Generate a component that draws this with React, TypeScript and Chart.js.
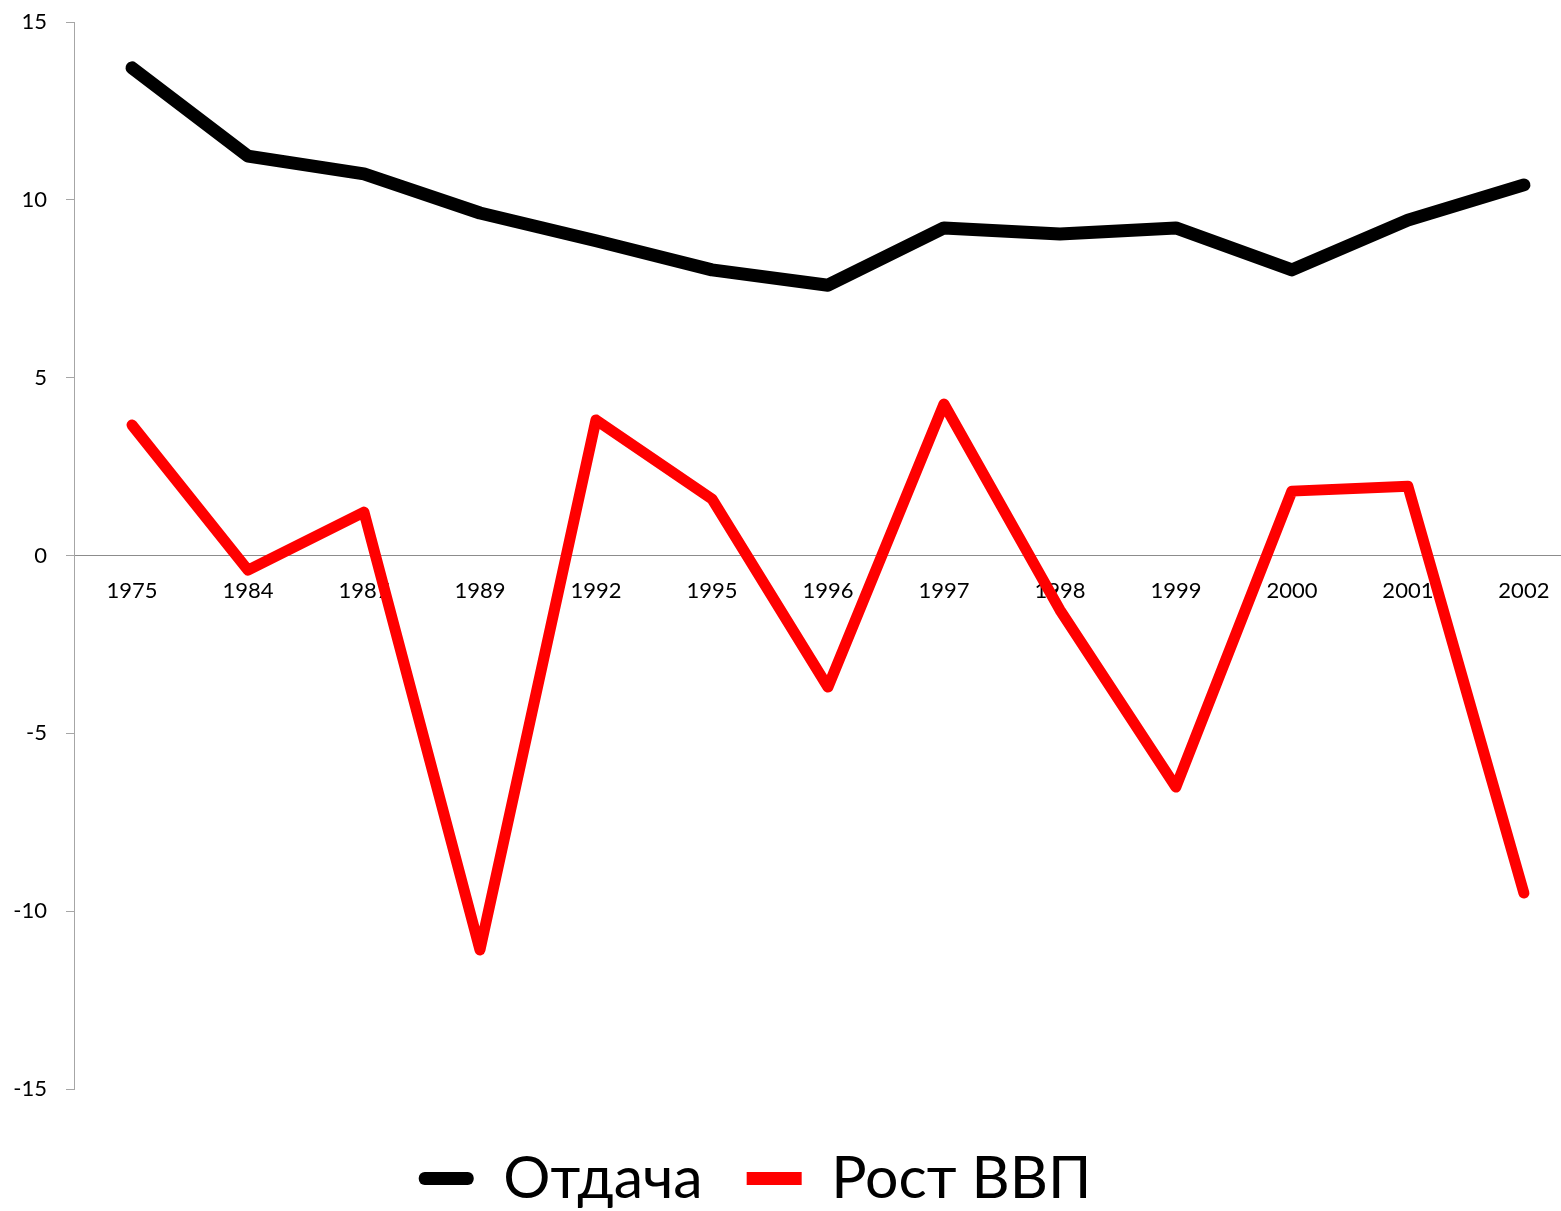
import React, { useEffect, useRef } from "react";
import { Chart, registerables } from "chart.js";

Chart.register(...registerables);

const years = ["1975", "1984", "1987", "1989", "1992", "1995", "1996", "1997", "1998", "1999", "2000", "2001", "2002"];
const otdacha = [13.71, 11.23, 10.73, 9.63, 8.85, 8.03, 7.6, 9.21, 9.04, 9.21, 8.03, 9.43, 10.42];
const rostVVP = [3.67, -0.41, 1.22, -11.09, 3.81, 1.59, -3.7, 4.26, -1.53, -6.51, 1.81, 1.95, -9.49];
const seriesNames = ["Отдача", "Рост ВВП"];
const yTicks = [-15, -10, -5, 0, 5, 10, 15];

const FONT = "Lato, 'Open Sans', sans-serif";

const legendShift = {
  id: "legendShift",
  afterLayout(chart: any) {
    const lg = chart.legend;
    if (!lg) return;
    lg.right -= 51;
    lg.width -= 51;
    lg.top += 16;
    lg.bottom += 16;
  },
};

export default function App() {
  const ref = useRef<HTMLCanvasElement | null>(null);

  useEffect(() => {
    if (!ref.current) return;
    const chart = new Chart(ref.current, {
      type: "line",
      data: {
        datasets: [
          {
            label: seriesNames[0],
            data: otdacha.map((v, i) => ({ x: i, y: v })),
            borderColor: "#000000",
            backgroundColor: "#000000",
            borderWidth: 13,
            borderCapStyle: "round",
            borderJoinStyle: "round",
            pointRadius: 0,
            tension: 0,
          },
          {
            label: seriesNames[1],
            data: rostVVP.map((v, i) => ({ x: i, y: v })),
            borderColor: "#ff0000",
            backgroundColor: "#ff0000",
            borderWidth: 11,
            borderCapStyle: "round",
            borderJoinStyle: "round",
            pointRadius: 0,
            tension: 0,
          },
        ],
      },
      options: {
        responsive: false,
        animation: false,
        layout: { padding: { top: 22, left: 0, right: 0, bottom: 9 } },
        scales: {
          x: {
            type: "linear",
            position: { y: 0 } as any,
            min: -0.5,
            max: 12.32,
            afterBuildTicks: (scale: any) => {
              scale.ticks = years.map((_, i) => ({ value: i }));
            },
            afterFit: (scale: any) => {
              scale.paddingLeft = 0;
              scale.paddingRight = 0;
            },
            ticks: {
              autoSkip: false,
              maxRotation: 0,
              padding: 14,
              color: "#000000",
              font: { family: FONT, size: 22 },
              callback: (v: any) => years[v as number] ?? "",
            },
            grid: { display: false },
            border: { display: true, color: "#8c8c8c", width: 1 },
          },
          y: {
            type: "linear",
            min: -15,
            max: 15,
            afterBuildTicks: (scale: any) => {
              scale.ticks = yTicks.map((v) => ({ value: v }));
            },
            afterFit: (scale: any) => {
              scale.width = 74;
              scale.paddingTop = 10;
              scale.paddingBottom = 10;
            },
            ticks: {
              padding: 19,
              color: "#000000",
              font: { family: FONT, size: 22 },
            },
            grid: {
              drawOnChartArea: false,
              drawTicks: true,
              tickLength: 8,
              color: "#a6a6a6",
            },
            border: { display: true, color: "#a6a6a6", width: 1 },
          },
        },
        plugins: {
          tooltip: { enabled: false },
          legend: {
            position: "bottom",
            labels: {
              boxWidth: 55,
              boxHeight: 13,
              padding: 44,
              color: "#000000",
              font: { family: FONT, size: 59 },
              useBorderRadius: true,
              generateLabels: (ch: any) =>
                ch.data.datasets.map((ds: any, i: number) => ({
                  text: ds.label,
                  fillStyle: ds.borderColor,
                  strokeStyle: ds.borderColor,
                  lineWidth: 0,
                  borderRadius: i === 0 ? 6 : 0,
                  datasetIndex: i,
                  hidden: false,
                })),
            },
          },
        },
      } as any,
      plugins: [legendShift],
    });
    return () => chart.destroy();
  }, []);

  return (
    <canvas
      ref={ref}
      width={1561}
      height={1211}
      style={{ position: "absolute", left: 0, top: 0, display: "block" }}
    />
  );
}
